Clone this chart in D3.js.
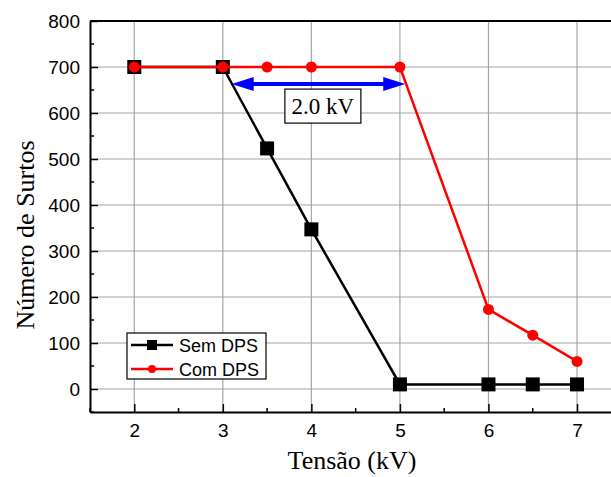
<!DOCTYPE html>
<html>
<head>
<meta charset="utf-8">
<script src="https://d3js.org/d3.v7.min.js"></script>
<style>
  body { margin: 0; background: #fff; }
  .grid line { stroke: #a6a6a6; stroke-width: 1.2; }
</style>
</head>
<body>
<div id="chart"></div>
<script>

// tension values (kV)
var tensao = [2, 3, 3.5, 4, 5, 6, 6.5, 7];

// number of surges for each series
var semDPS = [700, 700, 523, 347, 10, 10, 10, 10];
var comDPS = [700, 700, 700, 700, 700, 173, 117, 60];

// ticks
var xTicks = [2, 3, 4, 5, 6, 7];
var xMinor = [1.5, 2.5, 3.5, 4.5, 5.5, 6.5, 7.5];
var yTicks = [0, 100, 200, 300, 400, 500, 600, 700, 800];
var yMinor = [-50, 50, 150, 250, 350, 450, 550, 650, 750];

// annotation: blue arrow between the two curves
var arrowX = [3.1, 5.06];
var arrowY = 663;
var arrowLabel = "2.0 kV";

var width = 611, height = 477;

var svg = d3.select("#chart").append("svg")
  .attr("width", width)
  .attr("height", height);

var x = d3.scaleLinear().domain([1.5, 7.5]).range([90, 621.3]);
var y = d3.scaleLinear().domain([-50, 800]).range([412, 21]);

// grid lines
svg.append("g").attr("class", "grid")
  .selectAll("line").data(xTicks).enter().append("line")
  .attr("x1", d => x(d)).attr("x2", d => x(d))
  .attr("y1", y(800)).attr("y2", y(-50));

svg.append("g").attr("class", "grid")
  .selectAll("line").data(yTicks).enter().append("line")
  .attr("x1", x(1.5)).attr("x2", x(7.5))
  .attr("y1", d => y(d)).attr("y2", d => y(d));

// axes, ticks point inward
var xAxis = d3.axisBottom(x).tickValues(xTicks).tickFormat(d3.format("d"))
  .tickSizeInner(-8).tickSizeOuter(0).tickPadding(12);
var yAxis = d3.axisLeft(y).tickValues(yTicks).tickFormat(d3.format("d"))
  .tickSizeInner(-8).tickSizeOuter(0).tickPadding(10);

var gx = svg.append("g").attr("transform", "translate(0," + y(-50) + ")").call(xAxis);
var gy = svg.append("g").attr("transform", "translate(" + x(1.5) + ",0)").call(yAxis);

[gx, gy].forEach(function(g) {
  g.select(".domain").attr("stroke", "#000").attr("stroke-width", 2);
  g.selectAll(".tick line").attr("stroke", "#000").attr("stroke-width", 1.5);
  g.selectAll("text").attr("fill", "#000")
    .style("font-family", "Arial, 'Liberation Sans', sans-serif")
    .style("font-size", "19px");
});

// minor ticks
svg.append("g").selectAll("line").data(xMinor).enter().append("line")
  .attr("x1", d => x(d)).attr("x2", d => x(d))
  .attr("y1", y(-50)).attr("y2", y(-50) - 4)
  .attr("stroke", "#000").attr("stroke-width", 1.5);

svg.append("g").selectAll("line").data(yMinor).enter().append("line")
  .attr("x1", x(1.5)).attr("x2", x(1.5) + 4)
  .attr("y1", d => y(d)).attr("y2", d => y(d))
  .attr("stroke", "#000").attr("stroke-width", 1.5);

// top border
svg.append("line")
  .attr("x1", x(1.5)).attr("x2", x(7.5))
  .attr("y1", y(800)).attr("y2", y(800))
  .attr("stroke", "#000").attr("stroke-width", 2);

var line = d3.line()
  .x(d => x(d[0]))
  .y(d => y(d[1]));

var semData = tensao.map((t, i) => [t, semDPS[i]]);
var comData = tensao.map((t, i) => [t, comDPS[i]]);

// Sem DPS
svg.append("path").datum(semData)
  .attr("d", line).attr("fill", "none")
  .attr("stroke", "#000").attr("stroke-width", 2.5);

svg.append("g").selectAll("rect").data(semData).enter().append("rect")
  .attr("x", d => x(d[0]) - 7).attr("y", d => y(d[1]) - 7)
  .attr("width", 14).attr("height", 14)
  .attr("fill", "#000");

// Com DPS
svg.append("path").datum(comData)
  .attr("d", line).attr("fill", "none")
  .attr("stroke", "#ff0000").attr("stroke-width", 2.5);

svg.append("g").selectAll("circle").data(comData).enter().append("circle")
  .attr("cx", d => x(d[0])).attr("cy", d => y(d[1]))
  .attr("r", 5.5).attr("fill", "#ff0000");

// blue double arrow
var ax1 = x(arrowX[0]), ax2 = x(arrowX[1]), ay = y(arrowY);
svg.append("line")
  .attr("x1", ax1 + 15).attr("x2", ax2 - 15)
  .attr("y1", ay).attr("y2", ay)
  .attr("stroke", "#0000ff").attr("stroke-width", 4);

svg.append("path")
  .attr("d", "M" + ax1 + "," + ay + "L" + (ax1 + 22) + "," + (ay - 7) + "L" + (ax1 + 22) + "," + (ay + 7) + "Z")
  .attr("fill", "#0000ff");
svg.append("path")
  .attr("d", "M" + ax2 + "," + ay + "L" + (ax2 - 22) + "," + (ay - 7) + "L" + (ax2 - 22) + "," + (ay + 7) + "Z")
  .attr("fill", "#0000ff");

// label box
var bx = x(4.13), by = y(615);
svg.append("rect")
  .attr("x", bx - 38).attr("y", by - 17)
  .attr("width", 76).attr("height", 34)
  .attr("fill", "#fff").attr("stroke", "#000").attr("stroke-width", 1.2);
svg.append("text")
  .attr("x", bx).attr("y", by + 8)
  .attr("text-anchor", "middle")
  .style("font-family", "'Liberation Serif', 'Times New Roman', serif")
  .style("font-size", "23px")
  .text(arrowLabel);

// legend
var legend = svg.append("g").attr("transform", "translate(127,333)");
legend.append("rect")
  .attr("width", 139).attr("height", 46)
  .attr("fill", "#fff").attr("stroke", "#000").attr("stroke-width", 1.2);

var legendItems = [
  {name: "Sem DPS", color: "#000", shape: "square"},
  {name: "Com DPS", color: "#ff0000", shape: "circle"}
];

legendItems.forEach(function(d, i) {
  var ly = 12 + i * 24;
  legend.append("line")
    .attr("x1", 4).attr("x2", 46).attr("y1", ly).attr("y2", ly)
    .attr("stroke", d.color).attr("stroke-width", 2.5);
  if (d.shape == "square") {
    legend.append("rect").attr("x", 20).attr("y", ly - 5)
      .attr("width", 10).attr("height", 10).attr("fill", d.color);
  } else {
    legend.append("circle").attr("cx", 25).attr("cy", ly).attr("r", 4).attr("fill", d.color);
  }
  legend.append("text")
    .attr("x", 52).attr("y", ly + 6.5)
    .style("font-family", "Arial, 'Liberation Sans', sans-serif")
    .style("font-size", "18px")
    .text(d.name);
});

// axis labels
svg.append("text")
  .attr("transform", "translate(34,235) rotate(-90)")
  .attr("text-anchor", "middle")
  .style("font-family", "'Liberation Serif', 'Times New Roman', serif")
  .style("font-size", "26px")
  .text("Número de Surtos");

svg.append("text")
  .attr("x", 352).attr("y", 469)
  .attr("text-anchor", "middle")
  .style("font-family", "'Liberation Serif', 'Times New Roman', serif")
  .style("font-size", "26px")
  .text("Tensão (kV)");

</script>
</body>
</html>
